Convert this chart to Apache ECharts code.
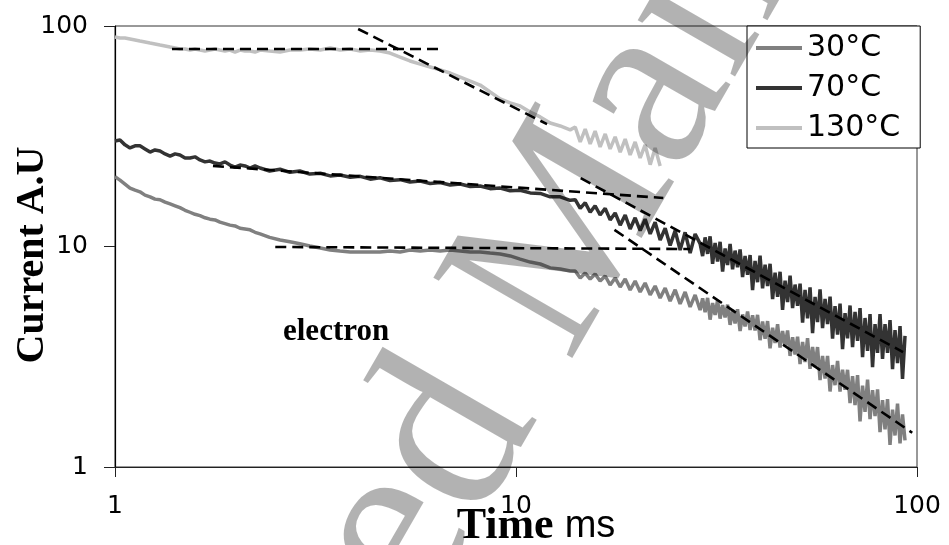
<!DOCTYPE html>
<html>
<head>
<meta charset="utf-8">
<script src="https://cdn.jsdelivr.net/npm/echarts@6/dist/echarts.min.js"></script>
<style>
  html, body { margin: 0; padding: 0; background: #fff; }
  #chart { width: 949px; height: 545px; }
</style>
</head>
<body>
<div id="chart"></div>
<script>
// Sampling times (ms), shared by the three temperature traces
const times = [
  1.000, 1.029, 1.059, 1.090, 1.122, 1.154, 1.188, 1.223, 1.258, 1.295,
  1.333, 1.372, 1.412, 1.452, 1.495, 1.538, 1.583, 1.629, 1.677, 1.725,
  1.776, 1.827, 1.881, 1.935, 1.992, 2.050, 2.110, 2.171, 2.235, 2.300,
  2.43, 2.58, 2.73, 2.89, 3.06, 3.25, 3.44, 3.64, 3.86, 4.09,
  4.33, 4.58, 4.85, 5.14, 5.44, 5.77, 6.11, 6.47, 6.85, 7.26,
  7.69, 8.14, 8.62, 9.13, 9.67, 10.24, 10.85, 11.49, 12.17, 12.89, 13.65,
  14.05, 14.46, 14.88, 15.31, 15.75, 16.21, 16.69, 17.17, 17.67, 18.19,
  18.72, 19.26, 19.82, 20.40, 20.99, 21.61, 22.23, 22.88, 23.55, 24.23,
  24.94, 25.66, 26.41, 27.18, 27.97, 28.78,
  29.20, 29.62, 30.05, 30.48, 30.92, 31.37, 31.82, 32.28, 32.75, 33.22,
  33.70, 34.19, 34.68, 35.18, 35.69, 36.21, 36.73, 37.26, 37.80, 38.35,
  38.90, 39.46, 40.03, 40.61, 41.20, 41.80, 42.40, 43.01, 43.64, 44.27,
  44.91, 45.55, 46.21, 46.88, 47.56, 48.25, 48.95, 49.65, 50.37, 51.10,
  51.84, 52.58, 53.34, 54.11, 54.90, 55.69, 56.49, 57.31, 58.14, 58.98,
  59.83, 60.70, 61.58, 62.46, 63.37, 64.28, 65.21, 66.16, 67.11, 68.08,
  69.07, 70.06, 71.08, 72.10, 73.15, 74.20, 75.28, 76.36, 77.47, 78.59,
  79.73, 80.87, 82.04, 83.23, 84.43, 85.65, 86.89, 88.14, 89.42, 90.71,
  92.02, 93.35
];

// Current (A.U) at 30 °C
const current30 = [
  20.7, 20.0, 19.2, 18.4, 18.0, 17.7, 17.1, 16.8, 16.4, 16.3,
  15.9, 15.6, 15.3, 15.0, 14.6, 14.3, 14.0, 13.8, 13.5, 13.3,
  13.2, 12.9, 12.7, 12.5, 12.4, 12.1, 12.0, 11.9, 11.6, 11.4,
  11.0, 10.7, 10.5, 10.3, 10.05, 9.84, 9.64, 9.54, 9.44, 9.44,
  9.44, 9.44, 9.54, 9.44, 9.64, 9.54, 9.64, 9.54, 9.64, 9.54,
  9.44, 9.44, 9.34, 9.25, 9.06, 8.77, 8.50, 8.33, 8.00, 7.91, 7.74,
  7.74, 7.20, 7.58, 7.12, 7.50, 6.97, 7.35, 6.69, 7.20, 6.55,
  7.12, 6.35, 6.97, 6.22, 6.83, 6.03, 6.62, 5.84, 6.48, 5.66,
  6.36, 5.49, 6.22, 5.32, 6.03, 5.15,
  5.82, 5.04, 5.85, 4.66, 5.54, 4.89, 5.71, 4.71, 5.42, 4.77,
  5.45, 4.41, 5.16, 4.48, 5.19, 4.14, 4.92, 4.34, 5.07, 4.18,
  4.87, 4.16, 4.90, 3.76, 4.57, 3.82, 4.59, 3.45, 4.28, 3.65,
  4.44, 3.48, 4.14, 3.53, 4.16, 3.19, 3.88, 3.24, 3.90, 2.93,
  3.69, 2.99, 3.84, 2.79, 3.50, 2.84, 3.50, 2.48, 3.19, 2.52,
  3.19, 2.20, 2.90, 2.35, 3.03, 2.20, 2.76, 2.24, 2.76, 1.95,
  2.58, 1.91, 2.61, 1.61, 2.34, 1.78, 2.49, 1.65, 2.23, 1.70,
  2.25, 1.44, 2.01, 1.48, 2.03, 1.26, 1.82, 1.39, 1.94, 1.28,
  1.73, 1.32
];

// Current (A.U) at 70 °C
const current70 = [
  30.1, 30.4, 28.9, 28.0, 28.6, 28.6, 27.7, 26.8, 27.4, 27.1,
  26.3, 25.7, 26.3, 26.0, 25.2, 25.2, 25.5, 24.7, 24.2, 24.4,
  23.9, 23.7, 24.2, 23.4, 22.9, 23.4, 23.2, 22.7, 23.2, 22.7,
  22.0, 22.4, 21.7, 22.0, 21.3, 21.5, 20.9, 21.1, 20.6, 20.8,
  20.2, 20.5, 19.9, 20.1, 19.6, 19.8, 19.3, 19.5, 19.0, 19.2,
  18.7, 18.8, 18.3, 18.4, 17.9, 18.0, 17.5, 17.4, 16.8, 16.8, 16.2,
  16.3, 14.9, 15.8, 14.3, 15.3, 13.9, 14.9, 13.2, 14.2, 12.5,
  13.9, 12.0, 13.5, 11.8, 13.3, 11.4, 12.9, 10.7, 12.1, 10.1,
  11.8, 9.64, 11.6, 9.34, 11.4, 10.3,
  9.05, 11.00, 9.26, 11.12, 8.35, 10.38, 8.54, 10.50, 7.70, 9.80,
  8.25, 10.26, 7.88, 9.58, 8.06, 9.69, 7.27, 9.05, 7.44, 9.15,
  6.34, 8.60, 6.89, 9.08, 6.46, 8.27, 6.62, 8.35, 5.77, 7.61,
  5.91, 7.68, 5.16, 7.00, 5.60, 7.38, 5.26, 6.72, 5.38, 6.79,
  4.52, 6.36, 4.72, 6.52, 4.05, 5.91, 4.54, 6.39, 4.26, 5.79,
  4.45, 5.93, 3.82, 5.37, 3.99, 5.51, 3.42, 4.99, 3.83, 5.40,
  3.50, 5.05, 3.73, 5.26, 3.15, 4.74, 3.36, 4.94, 2.84, 4.45,
  3.29, 4.94, 3.09, 4.45, 3.29, 4.64, 2.78, 4.18, 2.96, 4.36,
  2.51, 3.93
];

// Current (A.U) at 130 °C (recorded up to ~23 ms)
const current130 = [
  89.2, 88.2, 88.2, 87.3, 86.4, 85.5, 84.6, 83.7, 82.9, 82.0,
  81.2, 80.3, 79.5, 78.7, 78.7, 77.8, 78.7, 77.8, 77.0, 77.8,
  78.7, 77.8, 77.0, 77.8, 76.2, 77.8, 77.0, 77.0, 76.2, 77.8,
  77.0, 76.2, 77.8, 77.8, 78.7, 77.8, 79.5, 77.8, 78.7, 77.0,
  77.8, 77.0, 75.4, 72.3, 69.4, 67.2, 65.2, 63.2, 61.2, 58.7,
  56.3, 54.0, 50.2, 46.7, 44.8, 43.4, 40.7, 38.7, 36.3, 35.2, 33.8,
  34.8, 29.8, 34.1, 29.2, 33.4, 28.3, 32.4, 27.7, 31.4, 26.8,
  30.7, 26.0, 29.8, 25.2, 28.9, 23.5, 28.0, 23.2
];

// Power-law fit segments [time, current]
const fit130Flat  = [[1.387, 78.6], [6.47, 78.6]];
const fit130Steep = [[4.04, 96.9], [11.95, 35.9]];
const fit70Flat   = [[1.755, 23.2], [23.3, 16.6]];
const fit70Steep  = [[14.5, 20.4], [92.3, 3.32]];
const fit30Flat   = [[2.51, 9.95], [27.2, 9.74]];
const fit30Steep  = [[17.6, 11.9], [97.3, 1.43]];

const seriesNames = ['30°C', '70°C', '130°C'];
const seriesColors = ['#808080', '#333333', '#c0c0c0'];

const pair = vals => vals.map((v, i) => [times[i], v]);

function trace(name, vals, color) {
  return {
    name: name, type: 'line', data: pair(vals),
    showSymbol: false, symbol: 'none', z: 2,
    lineStyle: { color: color, width: 3.5 },
    itemStyle: { color: color }
  };
}

function fit(pts) {
  return {
    type: 'line', data: pts, showSymbol: false, symbol: 'none', z: 5,
    lineStyle: { color: '#000', width: 2.6, type: [11, 6] },
    silent: true
  };
}

const chart = echarts.init(document.getElementById('chart'), null, { renderer: 'canvas' });

const axisFont = { fontFamily: 'DejaVu Sans', fontSize: 25, color: '#000' };

chart.setOption({
  animation: false,
  backgroundColor: '#fff',
  grid: {
    left: 115, right: 32, top: 26, bottom: 78,
    outerBoundsMode: 'none', containLabel: false,
    show: true, borderColor: '#333', borderWidth: 1
  },
  xAxis: {
    type: 'log', logBase: 10, min: 1, max: 100,
    axisLine: { show: true, lineStyle: { color: '#222', width: 1.2 } },
    axisTick: { show: true, inside: false, length: 10, lineStyle: { color: '#222' } },
    axisLabel: Object.assign({ margin: 27 }, axisFont),
    splitLine: { show: false },
    minorTick: { show: false },
    name: '{b|Time }{s|ms}',
    nameLocation: 'middle',
    nameGap: 38,
    nameMoveOverlap: false,
    nameTextStyle: {
      padding: [0, 0, 0, 40],
      rich: {
        b: { fontFamily: 'Liberation Serif', fontWeight: 'bold', fontSize: 44, color: '#000' },
        s: { fontFamily: '"Liberation Sans Narrow", "Liberation Sans"', fontSize: 38, color: '#000' }
      }
    }
  },
  yAxis: {
    type: 'log', logBase: 10, min: 1, max: 100,
    axisLine: { show: true, lineStyle: { color: '#000', width: 1.2 } },
    axisTick: { show: true, inside: false, length: 11, lineStyle: { color: '#222' } },
    axisLabel: Object.assign({ margin: 27 }, axisFont),
    splitLine: { show: false },
    minorTick: { show: false },
    name: 'Current A.U',
    nameLocation: 'middle',
    nameGap: 62,
    nameMoveOverlap: false,
    nameTextStyle: {
      fontFamily: 'Liberation Serif', fontWeight: 'bold', fontSize: 40, color: '#000',
      padding: [0, 17, 0, 0]
    }
  },
  legend: {
    data: seriesNames,
    orient: 'vertical',
    left: 747, top: 26,
    icon: 'rect', itemWidth: 46, itemHeight: 4, itemGap: 0,
    padding: [2, 20, 0, 9],
    backgroundColor: '#fff', borderColor: '#000', borderWidth: 1,
    textStyle: { fontFamily: 'DejaVu Sans', fontSize: 30, color: '#000', lineHeight: 40 }
  },
  graphic: [
    {
      type: 'text', x: 283, y: 332, z: 20,
      style: {
        text: 'electron', fill: '#000',
        font: 'bold 31px "Liberation Serif"',
        align: 'left', verticalAlign: 'middle'
      }
    },
    {
      type: 'text', x: 20, y: 1186, rotation: 60 * Math.PI / 180, z: 100,
      style: {
        text: 'Accepted Manuscript', fill: 'rgba(0,0,0,0.3)',
        font: '245px "Liberation Serif"',
        align: 'left', verticalAlign: 'middle'
      }
    }
  ],
  series: [
    trace(seriesNames[2], current130, seriesColors[2]),
    trace(seriesNames[0], current30, seriesColors[0]),
    trace(seriesNames[1], current70, seriesColors[1]),
    fit(fit130Flat), fit(fit130Steep),
    fit(fit70Flat), fit(fit70Steep),
    fit(fit30Flat), fit(fit30Steep)
  ]
});
</script>
</body>
</html>
